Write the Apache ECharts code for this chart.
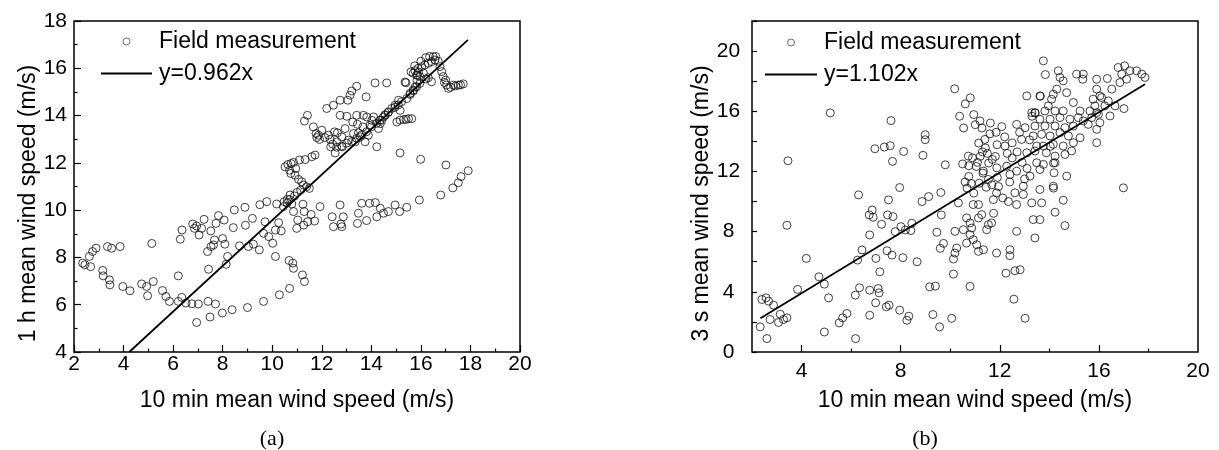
<!DOCTYPE html>
<html>
<head>
<meta charset="utf-8">
<script src="https://cdn.jsdelivr.net/npm/echarts@6/dist/echarts.min.js"></script>
<style>html,body{margin:0;padding:0;background:#fff;}#c{width:1219px;height:450px;}</style>
</head>
<body>
<div id="c"></div>
<script>
// ---------- Panel (a): 10 min vs 1 h mean wind speed ----------
const fieldA = [
[2.35,7.76],[2.44,7.69],[2.62,8.04],[2.67,7.61],[2.75,8.25],[2.89,8.39],[3.16,7.45],[3.18,7.22],[3.43,7.05],[3.45,6.84],[3.35,8.46],[3.52,8.39],[3.86,8.46],[3.97,6.77],[4.26,6.59],[4.73,6.88],[4.93,6.77],[4.97,6.38],[5.2,6.98],[5.14,8.59],[5.57,6.6],[5.71,6.35],[5.85,6.14],[6.21,6.14],[6.21,7.22],[6.35,6.31],[6.52,6.07],[6.76,6.04],[7.02,6.03],[6.95,5.25],[7.41,6.14],[7.49,5.48],[7.71,6.03],[7.99,5.65],[8.38,5.79],[9.0,5.88],[9.65,6.14],[10.29,6.42],[10.7,6.69],[10.68,7.87],[10.83,7.76],[10.86,7.54],[11.22,7.26],[11.3,6.98],[10.13,8.04],[8.2,8.04],[8.14,7.71],[7.43,7.5],[7.39,8.25],
[6.29,8.77],[6.36,9.16],[6.79,9.41],[6.86,9.23],[6.95,9.33],[7.15,9.23],[7.05,8.95],[7.25,9.61],[7.52,9.12],[7.63,8.53],[7.53,8.46],[7.67,8.74],[7.83,9.77],[7.73,9.44],[8.06,9.58],[8.0,8.8],[8.09,8.56],[8.47,10.01],[8.43,9.26],[8.68,8.49],[8.9,10.12],[8.92,9.36],[9.04,8.46],[9.2,9.65],[9.24,8.56],[9.48,8.32],[9.5,10.23],[9.71,9.51],[9.78,10.36],[9.65,9.02],[9.86,8.88],[10.02,8.6],[10.18,10.26],[10.26,9.47],[10.13,9.16],[10.36,9.12],[10.48,10.36],[10.61,10.46],[10.72,10.64],[10.79,10.26],[10.86,9.94],[11.03,9.58],[10.99,9.23],[11.24,10.25],[11.29,9.94],[11.27,9.37],[11.43,9.51],[11.57,9.82],[11.71,9.54],[11.93,10.15],[12.42,9.72],[12.47,9.3],[12.77,9.41],[12.81,9.3],[12.74,10.22],[12.87,9.72],[13.44,9.44],[13.48,9.87],[13.61,10.29],[13.81,9.56],[13.93,10.29],[14.16,10.32],[14.22,9.72],[14.36,10.08],[14.49,9.87],[14.69,9.94],[14.96,10.22],[15.14,9.94],[15.43,10.12],[15.94,10.43],
[16.8,10.64],[17.29,10.94],[17.51,11.16],[17.62,11.42],[17.91,11.67],[15.99,12.15],[17.01,11.91],[15.16,12.42],
[10.45,10.15],[10.6,10.3],[10.7,10.45],[10.9,10.6],[11.0,10.75],[11.15,10.85],
[10.52,11.83],[10.63,11.93],[10.76,11.97],[10.86,12.02],[10.7,11.69],[10.75,11.55],[10.95,11.76],[10.92,11.48],[11.06,11.3],[11.19,11.2],[11.26,11.06],[11.39,10.99],[11.5,10.92],[11.1,12.12],[11.33,12.14],[11.6,12.26],[11.73,12.33],[11.3,13.77],[11.42,14.01],[11.66,13.52],[11.77,13.24],[11.8,13.07],[11.87,13.17],[12.0,13.38],[11.91,12.99],[12.13,13.07],[12.2,14.3],[12.27,13.17],[12.34,12.99],[12.36,12.68],[12.44,12.79],[12.47,14.44],[12.51,13.31],[12.54,12.42],[12.61,12.89],[12.63,13.27],[12.74,14.65],[12.74,14.01],[12.81,13.1],[12.83,12.68],[12.94,13.45],[13.01,13.97],[13.05,14.65],[13.08,12.96],[13.14,14.86],[13.21,15.04],[13.25,13.73],[13.28,13.24],[13.35,12.89],[13.41,15.24],[13.41,14.01],[13.44,13.63],[13.48,13.27],[13.55,13.1],[13.66,13.52],[13.68,14.01],[13.75,12.89],[13.79,14.79],[13.82,13.94],[13.88,13.17],[13.95,13.59],[14.02,13.8],[14.09,13.94],[14.15,15.38],[14.22,12.68],[14.29,13.45],[14.36,13.66],[14.42,13.8],[14.56,14.01],[14.62,15.38],[14.69,14.15],[14.82,14.3],[14.96,14.44],[15.03,13.73],[15.1,14.65],[15.16,14.22],[15.3,13.83],[15.36,15.42],[15.43,14.72],[15.5,13.87],[15.57,14.89],[15.63,13.87],[15.7,15.04],[15.77,15.21],[15.84,15.49],[15.86,15.7],[15.9,15.84],
[16.5,16.49],[16.57,16.35],[16.43,16.28],[16.3,16.21],[16.16,16.14],[16.03,16.07],[15.89,16.0],[15.76,15.9],[15.69,15.79],[15.83,15.72],[15.96,15.65],[16.77,16.07],[16.84,15.86],[16.9,15.65],[17.0,15.5],[17.04,15.29],[17.11,15.15],[17.31,15.29],[17.51,15.29],[17.71,15.34],[16.43,15.43],[15.56,14.94],[15.69,15.08],[15.83,15.22],[15.96,15.36],[15.22,14.59],[15.09,14.45],[14.95,14.35],[14.68,14.13],[14.55,14.03],[15.4,15.39],[15.16,13.81],[15.4,13.84],[14.01,13.53],[14.21,13.67],[14.35,13.81],[14.48,13.93],[13.81,13.32],[13.61,13.18],[13.41,13.04],[13.21,12.9],[13.0,12.83],[12.8,12.71],[12.6,12.66],
[15.6,15.85],[15.75,16.1],[16.0,16.3],[16.2,16.45],[16.35,16.5],[16.6,16.5],[16.7,16.3],[16.1,15.8],[16.3,15.6],[16.2,15.55],[16.95,15.4],[17.2,15.2],[17.4,15.25],[17.6,15.3]
];
const fitLineA = [[4.23, 4.0], [17.9, 17.2]];
const nameLineA = 'y=0.962x';

// ---------- Panel (b): 10 min vs 3 s mean wind speed ----------
const fieldB = [
[2.33,1.67],[2.4,3.49],[2.57,3.6],[2.6,0.89],[2.67,3.38],[2.73,2.16],[2.87,3.11],[3.07,1.96],[3.14,2.51],[3.27,2.16],[3.41,2.27],[3.45,12.71],[3.41,8.42],[3.84,4.16],[4.19,6.22],[4.7,5.0],[4.92,1.33],[4.92,4.51],[5.09,3.6],[5.16,15.89],[5.52,1.93],[5.66,2.27],[5.83,2.56],[6.17,3.78],[6.18,0.89],[6.26,6.11],[6.3,10.44],[6.34,4.27],[6.44,6.78],[6.75,4.11],[6.75,7.78],[6.75,2.44],[6.73,9.11],[6.85,9.44],[6.89,8.96],[6.96,13.51],[7.0,6.22],[6.99,3.27],[7.09,4.22],[7.13,3.93],[7.16,5.33],[7.23,8.49],[7.34,13.62],[7.42,3.0],[7.45,6.73],[7.47,9.11],[7.53,3.11],[7.51,10.11],[7.58,13.71],[7.61,15.38],[7.65,6.44],[7.67,12.67],[7.69,9.0],[7.78,8.0],[7.96,10.93],[7.96,2.78],[8.01,8.33],[8.09,6.27],[8.12,13.33],[8.19,8.11],[8.25,2.11],[8.33,2.38],[8.41,8.07],[8.45,8.56],[8.66,6.0],[8.86,10.0],[8.9,13.07],[8.99,14.44],[8.99,14.11],[9.13,10.33],[9.17,4.33],[9.3,2.49],[9.4,4.38],[9.46,7.96],[9.57,1.67],[9.6,6.89],[9.62,10.6],[9.64,9.11],[9.73,7.22],[9.8,12.44],
[10.19,8.02],[10.26,6.91],[10.19,6.58],[10.13,6.18],[10.53,8.13],[10.66,8.91],[10.8,8.58],[10.8,7.8],[10.87,8.24],[11.14,8.91],[11.27,9.13],[10.93,7.47],[10.66,7.24],[11.07,7.13],[11.14,6.69],[11.34,6.8],[11.47,8.13],[11.54,8.47],[11.67,8.58],[11.87,6.58],[12.41,6.8],[12.41,6.4],[12.25,5.24],[12.61,5.4],[12.82,5.47],[12.68,8.02],[13.42,7.58],[13.35,8.8],[12.57,3.51],[13.02,2.24],[12.68,9.8],[13.29,9.91],[11.74,10.13],[12.12,10.24],[11.87,10.58],[12.61,10.58],[12.95,10.47],[10.93,9.8],[11.14,9.8],[10.33,9.91],[10.13,5.18],[10.8,4.36],[10.06,2.24],[10.95,10.56],[11.75,9.22],[12.35,10.0],
[13.69,9.91],[14.23,9.29],[14.56,10.09],[14.63,8.4],[13.62,8.8],
[10.18,17.49],[10.38,15.67],[10.54,14.89],[10.61,16.49],[10.68,10.89],[10.75,12.38],[10.75,11.67],[10.81,16.89],[10.95,15.78],[11.01,15.11],[11.05,12.33],[11.15,13.89],[11.17,11.22],[11.21,13.0],[11.28,14.89],[11.32,11.89],[11.42,13.56],[11.55,12.56],[11.62,15.22],[11.68,11.11],[11.89,13.78],[11.82,13.0],[11.95,11.0],
[11.2,15.36],[11.4,14.13],[10.73,13.02],[11.34,12.02],[11.54,11.47],[11.88,12.24],
[10.6,11.3],[10.9,12.9],[11.1,12.6],[11.5,13.2],[11.7,12.8],[11.3,13.3],[11.6,14.5],[11.85,14.6],[10.85,11.2],[11.45,10.95],[11.9,11.6],[10.5,12.5],
[12.08,14.98],[12.21,13.69],[12.68,15.13],[13.02,14.91],[13.09,17.02],[13.29,15.91],[12.88,14.13],[13.09,13.24],[13.49,13.69],[12.28,12.35],[12.41,11.8],[12.68,12.02],[13.22,11.69],[12.95,11.02],
[13.64,17.0],[13.84,18.44],[13.3,15.67],[13.43,15.89],[14.17,10.89],[14.17,12.56],[14.04,13.67],
[13.76,19.35],[14.36,18.69],[14.43,18.25],[14.56,18.02],[15.1,18.47],[15.37,18.47],[15.35,18.13],[15.91,18.13],[16.34,18.18],[16.78,18.91],[17.04,19.02],[17.25,18.69],[17.52,18.69],[17.73,18.47],[17.86,18.25],[16.92,18.47],[17.12,18.13],[16.85,17.91],[16.52,17.47],[15.91,17.47],[16.11,16.91],[16.38,16.69],[15.77,16.8],[15.84,16.36],[16.24,16.36],[16.65,16.36],[17.01,16.18],[16.45,15.69],[15.98,15.8],[15.71,15.58],[15.57,15.13],[15.91,14.8],[15.91,13.91],[15.24,16.02],[14.97,16.58],[14.7,17.24],[14.3,17.47],[14.16,17.13],[14.09,16.8],[13.62,17.02],[13.96,16.36],[14.23,16.02],[14.56,16.02],[13.82,16.02],[13.42,15.91],[13.62,15.47],[14.03,15.47],[14.43,15.58],[14.83,15.47],[15.17,15.58],[15.37,15.36],[14.97,15.02],[14.63,14.91],[14.23,15.02],[13.82,15.02],[13.42,15.02],[13.35,14.36],[13.69,14.47],[14.03,14.36],[14.43,14.58],[14.77,14.36],[15.24,14.24],[14.97,13.91],[14.56,13.69],[14.16,13.8],[13.76,13.69],[13.42,13.36],[13.88,13.24],[14.23,13.02],[14.63,13.13],[14.9,13.36],[13.49,12.58],[13.76,12.47],[14.23,12.58],[13.62,12.13],[14.19,11.91],[14.7,11.69],[14.16,11.02],[13.62,10.8],[16.99,10.91],
[16.04,17.02],[15.91,15.91],[16.04,15.24],[15.64,16.02],
[12.3,13.2],[12.5,13.9],[12.7,13.3],[12.9,12.6],[13.1,12.2],[12.5,12.9],[12.2,14.3],[12.8,14.6],[13.2,14.1],[12.4,11.3],[13.0,11.5]
];
const fitLineB = [[2.34, 2.24], [17.86, 17.8]];
const nameLineB = 'y=1.102x';

// ---------- Tick label values ----------
const xLabelsB = [4, 8, 12, 16, 20];
const xMajorTicksB = [4, 8, 12, 16];
const xMinorTicksB = [6, 10, 14, 18];
const yLabelsB = [0, 4, 8, 12, 16, 20];
const seriesFieldName = 'Field measurement';

const SANS = '"Liberation Sans", Arial, sans-serif';
const SERIF = '"Liberation Serif", "Times New Roman", serif';
const BLACK = '#000';

const chart = echarts.init(document.getElementById('c'), null, {renderer: 'canvas'});

const gridCommon = {show: true, borderColor: BLACK, borderWidth: 1.5, backgroundColor: 'transparent', outerBoundsMode: 'none', containLabel: false};
const labelStyle = {color: BLACK, fontFamily: SANS, fontSize: 21};
const nameStyle = {color: BLACK, fontFamily: SANS, fontSize: 23};
const scatterItem = {color: 'rgba(0,0,0,0)', borderColor: '#111', borderWidth: 1};
const legendTextStyle = {color: BLACK, fontFamily: SANS, fontSize: 23, lineHeight: 20, padding: [0, 0, 0, 2]};
const fieldLegendItem = {name: seriesFieldName, icon: 'circle', itemStyle: {color: 'rgba(0,0,0,0)', borderColor: '#333', borderWidth: 0.9}};
const lineIcon = 'path://M0,0L51,0L51,1.8L0,1.8Z';

const option = {
  animation: false,
  backgroundColor: '#fff',
  grid: [
    Object.assign({left: 74, top: 21, width: 446, height: 331}, gridCommon),
    Object.assign({left: 752, top: 21, width: 446, height: 331}, gridCommon)
  ],
  xAxis: [
    {
      type: 'value', gridIndex: 0, min: 2, max: 20, interval: 2, position: 'bottom',
      name: '10 min mean wind speed (m/s)', nameLocation: 'middle', nameGap: 37, nameTextStyle: nameStyle,
      axisLine: {show: false},
      axisTick: {show: true, inside: true, length: 7, lineStyle: {color: BLACK, width: 1.2}},
      minorTick: {show: true, splitNumber: 2, length: 3.5, lineStyle: {color: BLACK, width: 1.2}},
      axisLabel: Object.assign({margin: 2}, labelStyle),
      splitLine: {show: false}
    },
    {
      type: 'value', gridIndex: 1, min: 2, max: 20, interval: 2, position: 'bottom',
      name: '10 min mean wind speed (m/s)', nameLocation: 'middle', nameGap: 37, nameTextStyle: nameStyle,
      axisLine: {show: false},
      axisTick: {show: true, inside: true, length: 7, customValues: xMajorTicksB, lineStyle: {color: BLACK, width: 1.2}},
      axisLabel: Object.assign({margin: 9, customValues: xLabelsB}, labelStyle),
      splitLine: {show: false}
    },
    {
      type: 'value', gridIndex: 1, min: 2, max: 20, interval: 2, position: 'bottom', offset: 0,
      axisLine: {show: false},
      axisTick: {show: true, inside: true, length: 3.5, customValues: xMinorTicksB, lineStyle: {color: BLACK, width: 1.2}},
      axisLabel: {show: false},
      splitLine: {show: false}
    }
  ],
  yAxis: [
    {
      type: 'value', gridIndex: 0, min: 4, max: 18, interval: 2,
      name: '1 h mean wind speed (m/s)', nameLocation: 'middle', nameGap: 33,
      nameTextStyle: Object.assign({padding: [0, 34, 0, 0]}, nameStyle),
      axisLine: {show: false},
      axisTick: {show: true, inside: true, length: 7, lineStyle: {color: BLACK, width: 1.2}},
      minorTick: {show: true, splitNumber: 2, length: 3.5, lineStyle: {color: BLACK, width: 1.2}},
      axisLabel: Object.assign({margin: 7}, labelStyle),
      splitLine: {show: false}
    },
    {
      type: 'value', gridIndex: 1, min: 0, max: 22, interval: 2,
      name: '3 s mean wind speed (m/s)', nameLocation: 'middle', nameGap: 37,
      nameTextStyle: Object.assign({padding: [0, 34, 0, 0]}, nameStyle),
      axisLine: {show: false},
      axisTick: {show: true, inside: true, length: 5, lineStyle: {color: BLACK, width: 1.2}},
      axisLabel: Object.assign({margin: 23.5, align: 'center', customValues: yLabelsB}, labelStyle),
      splitLine: {show: false}
    }
  ],
  legend: [
    {
      left: 101, top: 30, orient: 'vertical', padding: 0, itemGap: 9, itemWidth: 51, itemHeight: 7,
      data: [fieldLegendItem, {name: nameLineA, icon: lineIcon}], selectedMode: false,
      textStyle: legendTextStyle
    },
    {
      left: 765, top: 31, orient: 'vertical', padding: 0, itemGap: 9, itemWidth: 52, itemHeight: 7,
      data: [fieldLegendItem, {name: nameLineB, icon: lineIcon}], selectedMode: false,
      textStyle: legendTextStyle
    }
  ],
  series: [
    {
      name: seriesFieldName, type: 'scatter', xAxisIndex: 0, yAxisIndex: 0, data: fieldA,
      symbol: 'circle', symbolSize: 8, itemStyle: scatterItem, emphasis: {disabled: true}, z: 2
    },
    {
      name: nameLineA, type: 'line', xAxisIndex: 0, yAxisIndex: 0, data: fitLineA,
      symbol: 'none', lineStyle: {color: BLACK, width: 1.8}, itemStyle: {color: BLACK}, emphasis: {disabled: true}, z: 3
    },
    {
      name: seriesFieldName, type: 'scatter', xAxisIndex: 1, yAxisIndex: 1, data: fieldB,
      symbol: 'circle', symbolSize: 8, itemStyle: scatterItem, emphasis: {disabled: true}, z: 2
    },
    {
      name: nameLineB, type: 'line', xAxisIndex: 1, yAxisIndex: 1, data: fitLineB,
      symbol: 'none', lineStyle: {color: BLACK, width: 1.8}, itemStyle: {color: BLACK}, emphasis: {disabled: true}, z: 3
    }
  ],
  graphic: [
    {type: 'text', x: 272, y: 439, style: {text: '(a)', fill: BLACK, font: '22px ' + SERIF, textAlign: 'center', textVerticalAlign: 'middle'}},
    {type: 'text', x: 925, y: 439, style: {text: '(b)', fill: BLACK, font: '22px ' + SERIF, textAlign: 'center', textVerticalAlign: 'middle'}}
  ]
};
chart.setOption(option);
</script>
</body>
</html>
